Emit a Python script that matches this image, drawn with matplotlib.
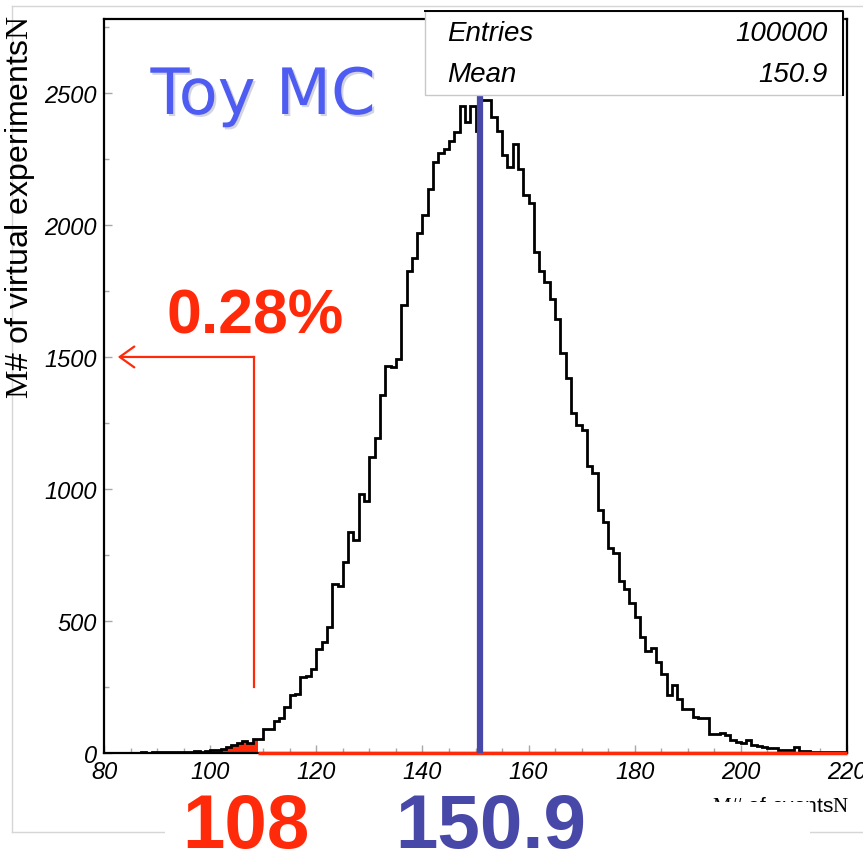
import matplotlib
matplotlib.use("Agg")
import matplotlib.pyplot as plt
import numpy as np
from matplotlib.patches import Rectangle
from matplotlib.lines import Line2D
from matplotlib.ticker import MultipleLocator
import matplotlib.patheffects as pe

plt.rcParams['font.family'] = ['Liberation Sans', 'DejaVu Sans']
plt.rcParams['mathtext.fontset'] = 'custom'
plt.rcParams['mathtext.rm'] = 'Liberation Serif'
plt.rcParams['mathtext.it'] = 'Liberation Serif:italic'
plt.rcParams['mathtext.bf'] = 'Liberation Serif:bold'

# ---- data: number of toy experiments per observed count (1-wide bins, 80..220)
bin_low = 80
bin_high = 220
counts = [
    0, 0, 0, 1, 0, 1, 1, 2, 1, 2,                              # 80-89
    3, 2, 3, 4, 3, 5, 4, 6, 5, 6,                              # 90-99
    12, 13, 14, 21, 31, 37, 45, 38, 54, 54,                    # 100-109
    91, 92, 122, 131, 173, 218, 223, 288, 290, 317,            # 110-119
    394, 422, 476, 640, 634, 722, 838, 808, 981, 956,          # 120-129
    1120, 1192, 1355, 1467, 1461, 1492, 1695, 1827, 1874, 1968,  # 130-139
    2038, 2136, 2237, 2273, 2288, 2317, 2351, 2452, 2389, 2452,  # 140-149
    2357, 2475, 2475, 2408, 2355, 2265, 2220, 2307, 2212, 2112,  # 150-159
    2083, 1897, 1827, 1785, 1720, 1645, 1514, 1420, 1289, 1243,  # 160-169
    1224, 1087, 1059, 919, 874, 775, 759, 650, 622, 569,       # 170-179
    514, 441, 388, 399, 346, 300, 221, 256, 205, 167,          # 180-189
    165, 136, 134, 131, 73, 71, 74, 68, 50, 40,                # 190-199
    37, 50, 32, 25, 23, 19, 18, 12, 11, 10,                    # 200-209
    21, 9, 6, 5, 3, 3, 2, 3, 5, 2,                             # 210-219
]
entries = 100000
mean_value = 150.9
cut_value = 108
tail_label = "0.28%"
arrow_level = 1500
arrow_bottom = 250
x_ticks = [80, 100, 120, 140, 160, 180, 200, 220]
y_ticks = [0, 500, 1000, 1500, 2000, 2500]

RED = '#ff2a0a'
BLUE_LINE = '#4848a8'
BLUE_TITLE = '#4f5cf2'

W, H = 863, 854
fig = plt.figure(figsize=(W / 100, H / 100), dpi=100)


def fx(px):
    return px / W


def fy(py):
    return 1 - py / H


ax = fig.add_axes([fx(104), fy(754), (847 - 104) / W, (754 - 20) / H], zorder=2)
ax.set_xlim(bin_low, bin_high)
ax.set_ylim(0, 2780)

edges = np.arange(bin_low, bin_high + 1)
counts = np.asarray(counts)

# tail below the cut, filled in red
n_tail = cut_value - bin_low + 1
ax.stairs(counts[:n_tail], edges[:n_tail + 1], fill=True, color=RED, zorder=2)
# full histogram outline
ax.stairs(counts, edges, color='black', lw=2, zorder=3)
# tail histogram outline beyond the cut (zero level)
ax.plot([cut_value + 1, bin_high], [0, 0], color=RED, lw=2.5, zorder=4,
        clip_on=False, solid_capstyle='butt')
# mean marker
ax.plot([mean_value, mean_value], [0, 2515], color=BLUE_LINE, lw=4.5, zorder=5,
        solid_capstyle='butt')

# arrow from the cut towards the y axis
ax.plot([cut_value + 0.3, cut_value + 0.3], [arrow_bottom, arrow_level], color=RED,
        lw=1.6, zorder=6)
ax.annotate('', xy=(82.6, arrow_level), xytext=(cut_value + 0.3, arrow_level),
            arrowprops=dict(arrowstyle='->,head_length=0.7,head_width=0.5',
                            color=RED, lw=1.6, mutation_scale=15,
                            shrinkA=0, shrinkB=0), zorder=6)

for s in ax.spines.values():
    s.set_linewidth(1.6)
    s.set_color('black')

ax.set_xticks(x_ticks)
ax.set_yticks(y_ticks)
ax.xaxis.set_minor_locator(MultipleLocator(5))
ax.yaxis.set_minor_locator(MultipleLocator(250))
ax.tick_params(which='both', direction='in', color='#a8a8a8', width=1,
               labelsize=17, pad=5, top=False, right=False)
ax.tick_params(which='major', length=6)
ax.tick_params(which='minor', length=3.5)
for lab in ax.get_xticklabels() + ax.get_yticklabels():
    lab.set_fontstyle('italic')

# pad border
fig.add_artist(Line2D([fx(12), fx(12)], [fy(7), fy(833)], color='#d6d6d6', lw=1, zorder=0.5))
fig.add_artist(Line2D([fx(12), fx(863)], [fy(7), fy(7)], color='#d6d6d6', lw=1, zorder=0.5))
fig.add_artist(Line2D([fx(12), fx(863)], [fy(833), fy(833)], color='#d6d6d6', lw=1, zorder=0.5))

# axis titles
fig.text(fx(20), fy(15), r'$\mathrm{M}$# of virtual experiments$\mathrm{N}$',
         rotation=90, ha='center', va='top', fontsize=23, zorder=1)
fig.text(fx(849), fy(812), r'$\mathrm{M}$# of events$\mathrm{N}$',
         ha='right', va='baseline', fontsize=15, zorder=0.6)
# white panel behind the value labels
fig.add_artist(Rectangle((fx(165), fy(854)), fx(810) - fx(165), fy(803) - fy(854),
                         transform=fig.transFigure, facecolor='white',
                         edgecolor='none', zorder=1))

# statistics box
fig.add_artist(Rectangle((fx(425), fy(96)), fx(843) - fx(425), fy(12) - fy(96),
                         transform=fig.transFigure, facecolor='white',
                         edgecolor='#c8c8c8', lw=1, zorder=3))
fig.add_artist(Line2D([fx(425), fx(843), fx(843)], [fy(12), fy(12), fy(96)],
                      color='black', lw=1.4, zorder=3.1))
fig.text(fx(447), fy(34), 'Entries', ha='left', va='center', fontsize=20,
         style='italic', zorder=4)
fig.text(fx(828), fy(34), f'{entries}', ha='right', va='center', fontsize=20,
         style='italic', zorder=4)
fig.text(fx(447), fy(75), 'Mean', ha='left', va='center', fontsize=20,
         style='italic', zorder=4)
fig.text(fx(828), fy(75), f'{mean_value:.1f}', ha='right', va='center', fontsize=20,
         style='italic', zorder=4)

# annotations
fig.text(fx(263), fy(97), 'Toy MC', ha='center', va='center', fontsize=46,
         family='DejaVu Sans', color=BLUE_TITLE, zorder=4,
         path_effects=[pe.withSimplePatchShadow(offset=(1.5, -1.5),
                                                shadow_rgbFace='#b8b8c8',
                                                alpha=0.6)])
fig.text(fx(255), fy(334), tail_label, ha='center', va='baseline', fontsize=45,
         fontweight='bold', color=RED, zorder=4)
fig.text(fx(246), fy(848), f'{cut_value}', ha='center', va='baseline', fontsize=55,
         fontweight='bold', color=RED, zorder=4)
fig.text(fx(491), fy(848), f'{mean_value:.1f}', ha='center', va='baseline', fontsize=55,
         fontweight='bold', color=BLUE_LINE, zorder=4)

fig.savefig('out.png', dpi=100, facecolor='white')
